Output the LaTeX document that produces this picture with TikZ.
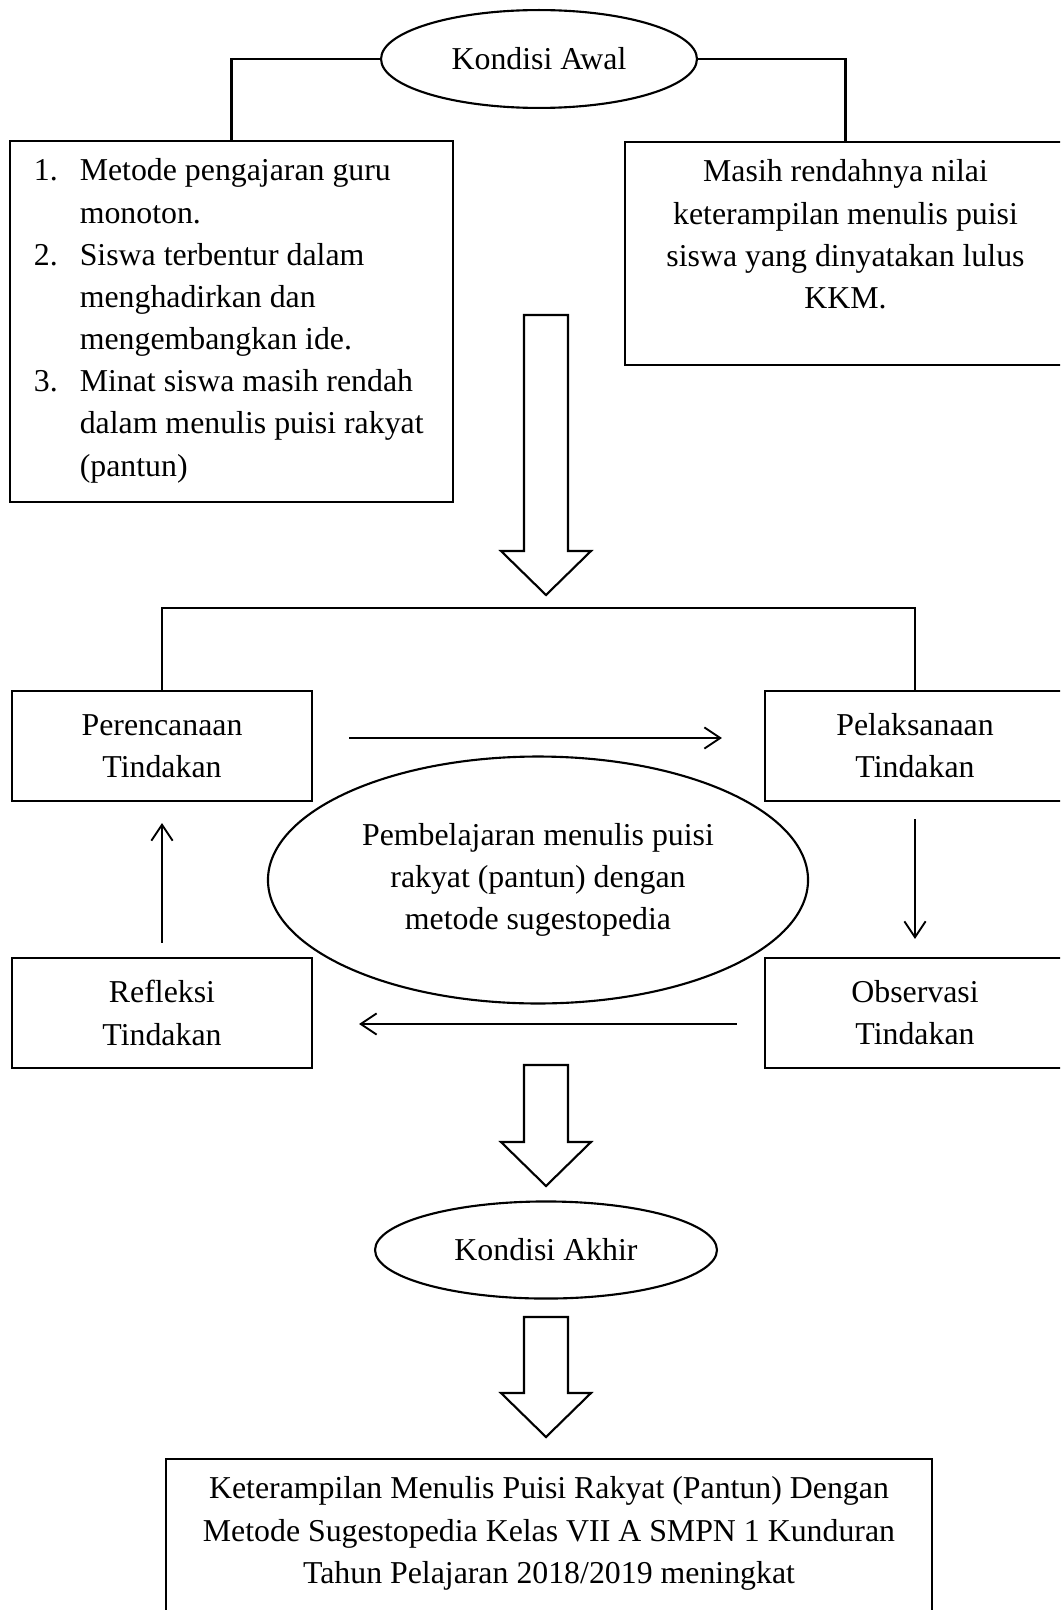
\documentclass[tikz,border=0pt]{standalone}
\usepackage{fontspec}
\setmainfont{Liberation Serif}
\usepackage{tikz}
\usetikzlibrary{shapes.geometric, calc, positioning, arrows.meta}

% hollow block arrow: #1 top of the shaft, #2 tip
\newcommand{\blockarrow}[2]{%
  \draw[hollow] ($(#1)+(-\shaft,0)$) -- ($(#1)+(\shaft,0)$) -- ($(#2)+(\shaft,-\headl)$)
    -- ($(#2)+(\headw,-\headl)$) -- (#2) -- ($(#2)+(-\headw,-\headl)$) -- ($(#2)+(-\shaft,-\headl)$) -- cycle;}

\begin{document}
\begin{tikzpicture}[x=0.377pt, y=-0.377pt,
  every node/.style={font=\fontsize{12pt}{15.9pt}\selectfont},
  box/.style={draw, rectangle, line width=0.8pt, inner sep=0pt, align=center},
  stage/.style={box, minimum width=113.1pt, minimum height=41.5pt},
  oval/.style={draw, ellipse, line width=0.8pt, inner sep=0pt, align=center},
  link/.style={line width=0.8pt},
  flow/.style={line width=0.7pt, -{Straight Barb[length=6pt,width=8pt]}},
  hollow/.style={line width=0.8pt, line join=miter}]
\pgfmathsetmacro{\shaft}{22}
\pgfmathsetmacro{\headw}{45}
\pgfmathsetmacro{\headl}{44}
\useasboundingbox (0,0) rectangle (1060,1610);
\clip (0,0) rectangle (1060,1610);

\node[oval, minimum width=119.1pt, minimum height=36.9pt] (awal) at (539,59) {Kondisi Awal};

\node[box] (faktor) at (231.5,321.5) {\parbox[c][136.1pt][t]{167pt}{\raggedright\vspace*{3.9pt}\hspace*{9pt}%
  \begin{tabular}[t]{@{}p{17.3pt}@{}l@{}}
  1. & Metode pengajaran guru\\
     & monoton.\\
  2. & Siswa terbentur dalam\\
     & menghadirkan dan\\
     & mengembangkan ide.\\
  3. & Minat siswa masih rendah\\
     & dalam menulis puisi rakyat\\
     & (pantun)
  \end{tabular}}};

\node[box] (masalah) at (845.5,253.5) {\parbox[c][84.1pt][t]{166.3pt}{\centering\vspace*{3.9pt}%
  \strut Masih rendahnya nilai\\keterampilan menulis puisi\\siswa yang dinyatakan lulus\\KKM.}};

\draw[link] (awal.west) -| (faktor.north);
\draw[link] (awal.east) -| (masalah.north);

\coordinate (mulai1) at (546,315);
\coordinate (ujung1) at (546,595);
\blockarrow{mulai1}{ujung1}

\node[stage] (rencana) at (162,746) {Perencanaan\\Tindakan};
\node[stage] (laksana) at (915,746) {Pelaksanaan\\Tindakan};
\node[stage] (refleksi) at (162,1013) {Refleksi\\Tindakan};
\node[stage] (observasi) at (915,1013) {Observasi\\Tindakan};

\coordinate (cabang) at (538,608);
\draw[link] (rencana.north) |- (cabang) -| (laksana.north);

\node[oval, minimum width=203.6pt, minimum height=93.1pt] (pembelajaran) at (538,880)
  {Pembelajaran menulis puisi\\rakyat (pantun) dengan\\metode sugestopedia};

\draw[flow] ($(rencana.east)+(36,-8)$) -- ($(laksana.west)+(-42,-8)$);
\draw[flow] ($(laksana.south)+(0,17)$) -- ($(observasi.north)+(0,-18)$);
\draw[flow] ($(observasi.west)+(-27,11)$) -- ($(refleksi.east)+(46,11)$);
\draw[flow] ($(refleksi.north)+(0,-14)$) -- ($(rencana.south)+(0,21)$);

\coordinate (mulai2) at (546,1065);
\coordinate (ujung2) at (546,1186);
\blockarrow{mulai2}{ujung2}

\node[oval, minimum width=128.9pt, minimum height=36.6pt] (akhir) at (546,1250) {Kondisi Akhir};

\coordinate (mulai3) at (546,1317);
\coordinate (ujung3) at (546,1437);
\blockarrow{mulai3}{ujung3}

\node[box] (hasil) at (549,1559) {\parbox[c][75.4pt][t]{288.8pt}{\centering\vspace*{3.9pt}%
  \strut Keterampilan Menulis Puisi Rakyat (Pantun) Dengan\\Metode Sugestopedia Kelas VII A SMPN 1 Kunduran\\Tahun Pelajaran 2018/2019 meningkat}};

\end{tikzpicture}
\end{document}
